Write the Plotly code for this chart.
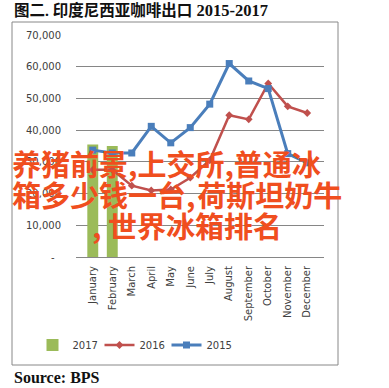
import plotly.graph_objects as go

months = ["January", "February", "March", "April", "May", "June", "July",
          "August", "September", "October", "November", "December"]
exports_2017 = [35500, 35000, None, None, None, None, None, None, None, None, None, None]
exports_2016 = [27500, 27500, 22500, 21000, 21300, 25000, 30500, 44700, 43400, 54700, 47500, 45400]
exports_2015 = [33700, 32800, 32800, 41200, 36000, 40800, 48200, 61000, 55500, 53100, 32600, 29700]
y_ticks = [0, 10000, 20000, 30000, 40000, 50000, 60000, 70000]
y_ticktext = ["-\u00a0\u00a0", "10,000", "20,000", "30,000", "40,000", "50,000", "60,000", "70,000"]

title_text = "图二. 印度尼西亚咖啡出口"
title_years = " 2015-2017"
source_text = "Source: BPS"
overlay_lines = ["养猪前景,上交所,普通冰", "箱多少钱一台,\u200a荷斯坦奶牛", ", 世界冰箱排名"]

W, H = 389, 388
L, R, T, B = 76, 324, 35, 257

def px_x(x):
    return (x - L) / (R - L)

def px_y(y):
    return (B - y) / (B - T)

AX_FONT = dict(family="DejaVu Sans", size=10, color="#404040")

fig = go.Figure()
fig.add_trace(go.Bar(x=months, y=exports_2017, name="2017", marker_color="#9BBB59",
                     marker_line_width=0))
fig.add_trace(go.Scatter(x=months, y=exports_2016, name="2016", mode="lines+markers",
                         line=dict(color="#C0504D", width=2.5),
                         marker=dict(symbol="diamond", size=6, color="#C0504D")))
fig.add_trace(go.Scatter(x=months, y=exports_2015, name="2015", mode="lines+markers",
                         line=dict(color="#4A7EBB", width=3),
                         marker=dict(symbol="square", size=7, color="#4A7EBB")))

fig.update_layout(
    width=W, height=H,
    margin=dict(l=L, r=W - R, t=T, b=H - B, pad=0),
    paper_bgcolor="white", plot_bgcolor="white",
    bargap=0.44,
    showlegend=True,
    legend=dict(orientation="h", x=px_x(133), y=px_y(345), xanchor="center", yanchor="middle",
                font=AX_FONT, traceorder="normal", itemwidth=30, entrywidth=22,
                bgcolor="rgba(0,0,0,0)"),
    xaxis=dict(type="category", tickangle=-90, tickfont=AX_FONT, showgrid=False,
               showline=True, linecolor="#868686", linewidth=1, ticks="",
               ticklabelstandoff=4),
    yaxis=dict(range=[0, 70000], tickvals=y_ticks, ticktext=y_ticktext, tickfont=AX_FONT,
               showgrid=True, gridcolor="#868686", gridwidth=1, zeroline=False,
               showline=False, ticks="", ticklabelstandoff=14),
)

# outer chart border
fig.add_shape(type="rect", xref="paper", yref="paper",
              x0=px_x(12), x1=px_x(338), y0=px_y(365), y1=px_y(22),
              line=dict(color="#888888", width=1), fillcolor="rgba(0,0,0,0)", layer="below")

# title
fig.add_annotation(xref="paper", yref="paper", x=px_x(12), y=px_y(10),
                   xanchor="left", yanchor="middle", showarrow=False,
                   text=f"<b><span style='font-size:15.5px'>{title_text}</span>{title_years}</b>",
                   font=dict(family="Liberation Serif, Noto Sans CJK SC", size=16.5, color="#111111"))
# source
fig.add_annotation(xref="paper", yref="paper", x=px_x(12), y=px_y(377),
                   xanchor="left", yanchor="middle", showarrow=False,
                   text=f"<b>{source_text}</b>",
                   font=dict(family="Liberation Serif", size=16, color="#111111"))

# overlay text
overlay_pos = [(10, 163), (10, 194), (90, 225)]
for line, (ox, oy) in zip(overlay_lines, overlay_pos):
    fig.add_annotation(xref="paper", yref="paper", x=px_x(ox), y=px_y(oy),
                       xanchor="left", yanchor="middle", showarrow=False,
                       text=f"<b>{line}</b>",
                       font=dict(family="Noto Sans CJK SC", size=29, color="#F04E1E"))

fig.write_html("out.html", config={"displayModeBar": False},
               post_script="document.body.style.margin='0';")
